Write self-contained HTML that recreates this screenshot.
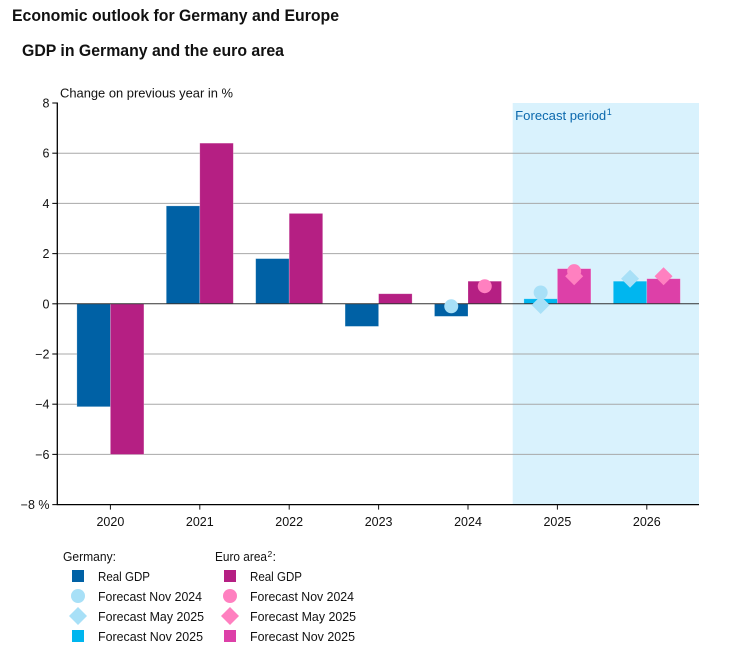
<!DOCTYPE html>
<html lang="en">
<head>
<meta charset="utf-8">
<title>GDP in Germany and the euro area</title>
<style>
html,body{margin:0;padding:0;background:#fff;width:732px;height:663px;overflow:hidden}
svg{display:block}
text{font-family:"Liberation Sans",sans-serif;fill:#111}
.lab{font-size:13px}
</style>
</head>
<body>
<svg id="chart" width="732" height="663" viewBox="0 0 732 663" xmlns="http://www.w3.org/2000/svg">
  <text x="12" y="21" font-size="17" font-weight="700" textLength="327" lengthAdjust="spacingAndGlyphs">Economic outlook for Germany and Europe</text>
  <text x="22" y="56" font-size="17" font-weight="700" textLength="262" lengthAdjust="spacingAndGlyphs">GDP in Germany and the euro area</text>
  <g id="plot"></g>
  <text class="lab" x="60" y="97.5" textLength="173" lengthAdjust="spacingAndGlyphs">Change on previous year in %</text>

  <g>
    <text class="lab" x="63" y="561" textLength="53" lengthAdjust="spacingAndGlyphs">Germany:</text>
    <text class="lab" x="215" y="561" textLength="52" lengthAdjust="spacingAndGlyphs">Euro area</text>
    <text x="267.5" y="557" font-size="8.5">2</text>
    <text class="lab" x="272.5" y="561">:</text>

    <rect x="72" y="570" width="12" height="12" fill="#0061a5"/>
    <text class="lab" x="98" y="581" textLength="52" lengthAdjust="spacingAndGlyphs">Real GDP</text>
    <circle cx="78" cy="596" r="7" fill="#a8e0f7"/>
    <text class="lab" x="98" y="601" textLength="104" lengthAdjust="spacingAndGlyphs">Forecast Nov 2024</text>
    <polygon points="78,607 87,616 78,625 69,616" fill="#a8e0f7"/>
    <text class="lab" x="98" y="621" textLength="106" lengthAdjust="spacingAndGlyphs">Forecast May 2025</text>
    <rect x="72" y="630" width="12" height="12" fill="#00b6ef"/>
    <text class="lab" x="98" y="641" textLength="105" lengthAdjust="spacingAndGlyphs">Forecast Nov 2025</text>

    <rect x="224" y="570" width="12" height="12" fill="#b51f83"/>
    <text class="lab" x="250" y="581" textLength="52" lengthAdjust="spacingAndGlyphs">Real GDP</text>
    <circle cx="230" cy="596" r="7" fill="#ff80c0"/>
    <text class="lab" x="250" y="601" textLength="104" lengthAdjust="spacingAndGlyphs">Forecast Nov 2024</text>
    <polygon points="230,607 239,616 230,625 221,616" fill="#ff80c0"/>
    <text class="lab" x="250" y="621" textLength="106" lengthAdjust="spacingAndGlyphs">Forecast May 2025</text>
    <rect x="224" y="630" width="12" height="12" fill="#dd40a8"/>
    <text class="lab" x="250" y="641" textLength="105" lengthAdjust="spacingAndGlyphs">Forecast Nov 2025</text>
  </g>
</svg>
<script>
const years = ['2020', '2021', '2022', '2023', '2024', '2025', '2026'];
const forecastYears = ['2025', '2026'];
const germanyGdp = [-4.1, 3.9, 1.8, -0.9, -0.5, 0.2, 0.9];
const euroGdp = [-6.0, 6.4, 3.6, 0.4, 0.9, 1.4, 1.0];
const germanyNov2024 = [null, null, null, null, -0.1, 0.45, null];
const germanyMay2025 = [null, null, null, null, null, -0.05, 1.0];
const euroNov2024 = [null, null, null, null, 0.7, 1.3, null];
const euroMay2025 = [null, null, null, null, null, 1.1, 1.1];
const yTicks = [8, 6, 4, 2, 0, -2, -4, -6, -8];

const NS = 'http://www.w3.org/2000/svg';
const plot = document.getElementById('plot');
const yZero = 303.8, yUnit = 25.1;
const xStart = 110.4, xStep = 89.4, barW = 33.5;
const axisX = 57.3, plotRight = 699;
const y = function (v) { return yZero - v * yUnit; };
const x = function (i) { return xStart + i * xStep; };

function add(tag, props) {
  const el = document.createElementNS(NS, tag);
  Object.keys(props).forEach(function (k) { el.setAttribute(k, props[k]); });
  plot.appendChild(el);
  return el;
}

// forecast band
const firstForecast = years.indexOf(forecastYears[0]);
const band = add('rect', {
  x: x(firstForecast) - xStep / 2, y: y(8),
  width: plotRight - (x(firstForecast) - xStep / 2), height: y(-8) - y(8), fill: '#d9f2fd'
});



const bandLabel = add('text', {
  x: x(firstForecast) - xStep / 2 + 2.5, y: 120, 'font-size': 13, textLength: 91,
  lengthAdjust: 'spacingAndGlyphs', style: 'fill:#0a68ad'
});
bandLabel.textContent = 'Forecast period';



const bandNote = add('text', {
  x: x(firstForecast) - xStep / 2 + 94, y: 115, 'font-size': 9, style: 'fill:#0a68ad'
});
bandNote.textContent = '1';



// gridlines and y ticks
yTicks.forEach(function (t) {
  if (t !== 0 && t !== 8 && t !== -8) {
    const g = add('line', { x1: axisX, x2: plotRight, y1: y(t), y2: y(t), stroke: '#a8a8a8', 'stroke-width': 1 });
    
    
  }
  const tick = add('line', { x1: axisX - 5, x2: axisX, y1: y(t), y2: y(t), stroke: '#111', 'stroke-width': 1.1 });
  
  
  const lab = add('text', { x: 49.5, y: y(t) + 4.5, 'font-size': 12.5, 'text-anchor': 'end' });
  lab.textContent = String(t).replace('-', '\u2212');
  if (t === -8) lab.textContent = '\u22128 %';
  
  
});

// bars
function drawBars(values, side, realColor, forecastColor, name) {
  values.forEach(function (v, i) {
    const isForecast = forecastYears.indexOf(years[i]) >= 0;
    const left = side < 0 ? x(i) - barW : x(i);
    const bar = add('rect', {
      x: left, y: Math.min(y(v), y(0)), width: barW, height: Math.abs(y(v) - y(0)),
      fill: isForecast ? forecastColor : realColor,
      stroke: '#ffffff', 'stroke-opacity': 0.3, 'stroke-width': 0.7
    });
    
    
  });
}
drawBars(germanyGdp, -1, '#0061a5', '#00b6ef', 'bar-germany');
drawBars(euroGdp, 1, '#b51f83', '#dd40a8', 'bar-euro');

// axes
const zeroLine = add('line', { x1: axisX, x2: plotRight, y1: y(0), y2: y(0), stroke: '#333', 'stroke-width': 1 });


const yAxis = add('line', { x1: axisX, x2: axisX, y1: y(8) - 0.5, y2: y(-8) + 0.5, stroke: '#000', 'stroke-width': 1.3 });


const xAxis = add('line', { x1: axisX, x2: plotRight, y1: y(-8), y2: y(-8), stroke: '#000', 'stroke-width': 1.3 });



years.forEach(function (yr, i) {
  const tick = add('line', { x1: x(i), x2: x(i), y1: y(-8), y2: y(-8) + 5, stroke: '#111', 'stroke-width': 1 });
  
  
  const lab = add('text', { x: x(i), y: 526, 'font-size': 12.5, 'text-anchor': 'middle' });
  lab.textContent = yr;
  
  
});

// markers
function drawCircles(values, side, color, name) {
  values.forEach(function (v, i) {
    if (v === null) return;
    const c = add('circle', { cx: x(i) + side * barW / 2, cy: y(v), r: 7, fill: color });
    
    
  });
}
function drawDiamonds(values, side, color, name) {
  values.forEach(function (v, i) {
    if (v === null) return;
    const cx = x(i) + side * barW / 2, cy = y(v), r = 9;
    const d = add('polygon', {
      points: [cx, cy - r, cx + r, cy, cx, cy + r, cx - r, cy].join(' '), fill: color
    });
    
    
  });
}
drawDiamonds(germanyMay2025, -1, '#a8e0f7', 'marker-germany-may-2025');
drawCircles(germanyNov2024, -1, '#a8e0f7', 'marker-germany-nov-2024');
drawDiamonds(euroMay2025, 1, '#ff80c0', 'marker-euro-may-2025');
drawCircles(euroNov2024, 1, '#ff80c0', 'marker-euro-nov-2024');
</script>
</body>
</html>
